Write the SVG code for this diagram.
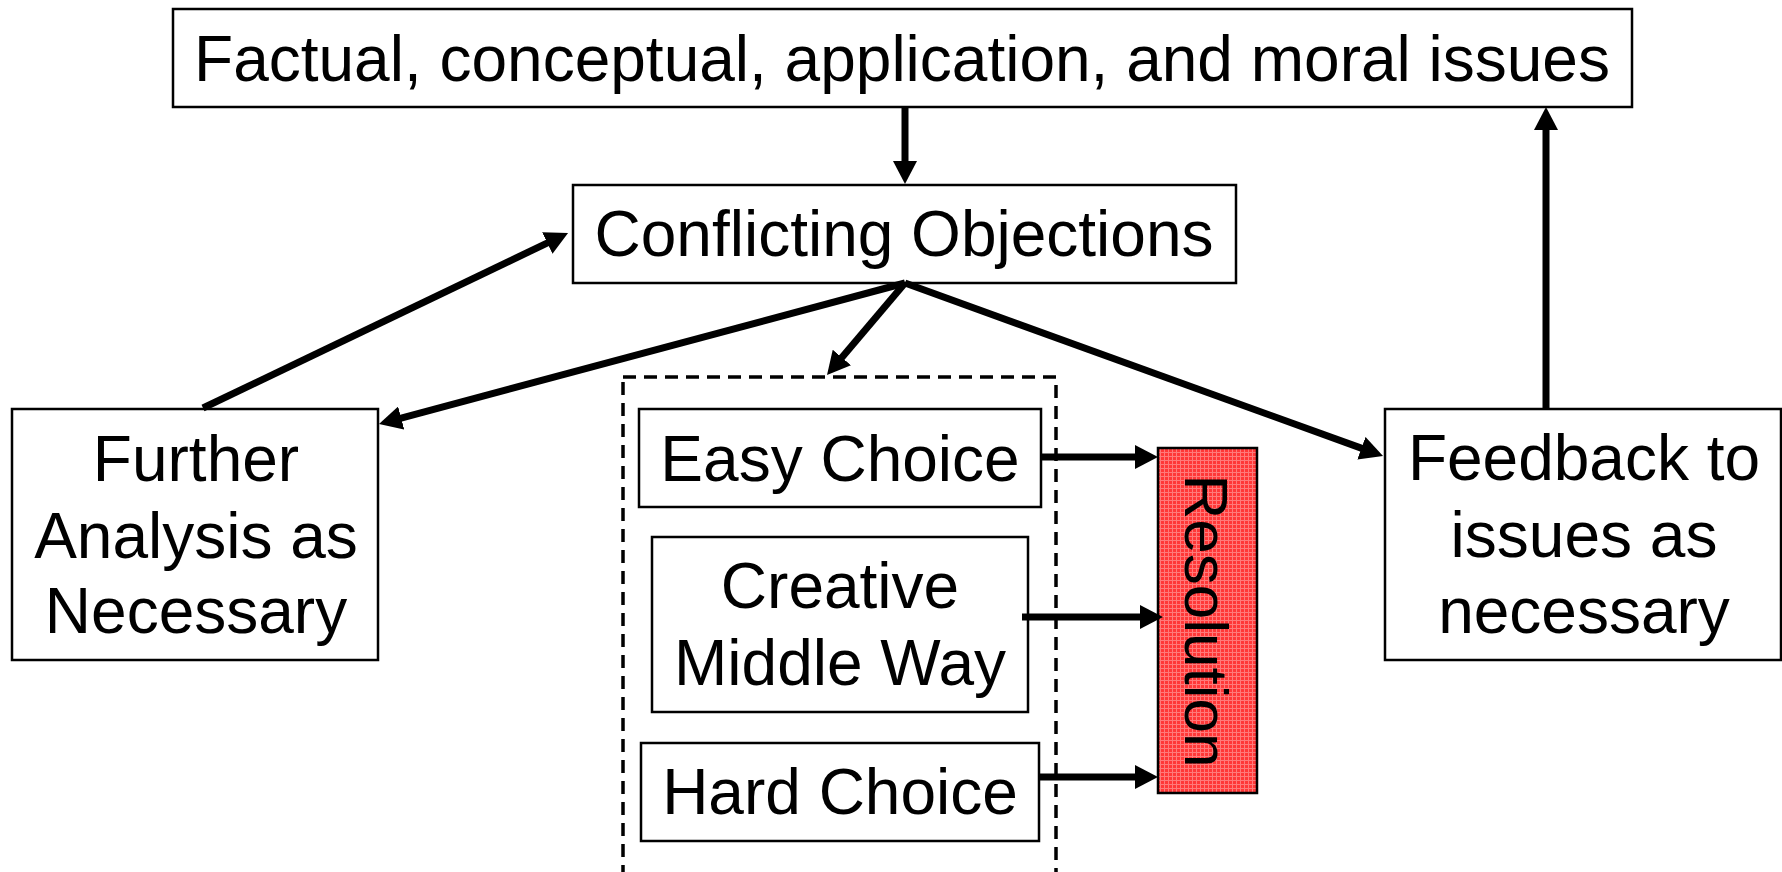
<svg xmlns="http://www.w3.org/2000/svg" width="1782" height="872" viewBox="0 0 1782 872">
<defs>
<style>
.box{fill:#fff;stroke:#000;stroke-width:2.5}
.lbl{font-family:"Liberation Sans",Arial,sans-serif;font-size:64px;fill:#000;text-anchor:middle}
.conn{stroke:#000;stroke-width:7;fill:none;marker-end:url(#ah)}
.dash{fill:none;stroke:#000;stroke-width:3.5;stroke-dasharray:13 8}
</style>
<marker id="ah" markerUnits="userSpaceOnUse" markerWidth="24" markerHeight="24" refX="2" refY="12" orient="auto">
<path d="M0,0 L23,12 L0,24 z" fill="#000"/>
</marker>
<pattern id="grid" width="4" height="4" patternUnits="userSpaceOnUse">
<rect width="4" height="4" fill="#ff3838"/>
<path d="M0,0.5 H4 M0.5,0 V4" stroke="#ff7a7a" stroke-width="1"/>
</pattern>
</defs>
<rect width="1782" height="872" fill="#fff"/>

<g id="issues">
<rect class="box" x="173" y="9" width="1459" height="98"/>
<text class="lbl" x="902" y="81">Factual, conceptual, application, and moral issues</text>
</g>

<g id="conflicting">
<rect class="box" x="573" y="185" width="663" height="98"/>
<text class="lbl" x="904" y="256">Conflicting Objections</text>
</g>

<g id="further">
<rect class="box" x="12" y="409" width="366" height="251"/>
<text class="lbl" x="196" y="481">Further</text>
<text class="lbl" x="196" y="558">Analysis as</text>
<text class="lbl" x="196" y="633">Necessary</text>
</g>

<g id="feedback">
<rect class="box" x="1385" y="409" width="396" height="251"/>
<text class="lbl" x="1584" y="480">Feedback to</text>
<text class="lbl" x="1584" y="557">issues as</text>
<text class="lbl" x="1584" y="633">necessary</text>
</g>

<g id="choices">
<rect class="dash" x="623" y="377" width="433" height="500"/>
</g>

<g id="easy">
<rect class="box" x="639" y="409" width="402" height="98"/>
<text class="lbl" x="840" y="481">Easy Choice</text>
</g>

<g id="creative">
<rect class="box" x="652" y="537" width="376" height="175"/>
<text class="lbl" x="840" y="608">Creative</text>
<text class="lbl" x="840" y="685">Middle Way</text>
</g>

<g id="hard">
<rect class="box" x="641" y="743" width="398" height="98"/>
<text class="lbl" x="840" y="814">Hard Choice</text>
</g>

<g id="resolution">
<rect x="1158" y="448" width="99" height="345" fill="url(#grid)" stroke="#000" stroke-width="2.5"/>
<text class="lbl" font-size="62" style="font-size:62px" transform="translate(1185,621) rotate(90)">Resolution</text>
</g>

<g id="connectors">
<line class="conn" x1="905" y1="107" x2="905" y2="163"/>
<line class="conn" x1="203" y1="408" x2="549.1" y2="242.1"/>
<line class="conn" x1="905" y1="283" x2="399.3" y2="418.6"/>
<line class="conn" x1="905" y1="283" x2="840.6" y2="359"/>
<line class="conn" x1="905" y1="283" x2="1363.3" y2="448.9"/>
<line class="conn" x1="1546" y1="409" x2="1546" y2="128"/>
<line class="conn" x1="1041" y1="457" x2="1137" y2="457"/>
<line class="conn" x1="1022" y1="617" x2="1142" y2="617"/>
<line class="conn" x1="1039" y1="777" x2="1137" y2="777"/>
</g>
</svg>
